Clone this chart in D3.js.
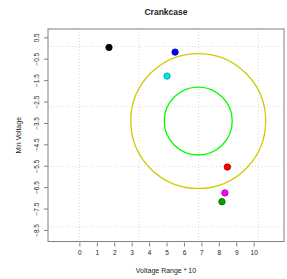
<!DOCTYPE html>
<html>
<head>
<meta charset="utf-8">
<script src="https://cdn.jsdelivr.net/npm/d3@7"></script>
<style>
  body { margin: 0; background: #fff; }
  text { font-family: "Liberation Sans", Arial, sans-serif; fill: #222; }
</style>
</head>
<body>
<svg id="chart" width="287" height="279"></svg>
<script>
const xTicks = [0, 1, 2, 3, 4, 5, 6, 7, 8, 9, 10];
const yTicks = [0.5, -0.5, -1.5, -2.5, -3.5, -4.5, -5.5, -6.5, -7.5, -8.5];
const gridX = [0, 3.42, 6.84, 10.26];
const gridY = [0.07, -2.74, -5.54, -8.35];

const pointNames = ['a', 'b', 'c', 'd', 'e', 'f'];
const pointX = [1.70, 5.49, 5.03, 8.49, 8.35, 8.18];
const pointY = [0.03, -0.19, -1.31, -5.56, -6.77, -7.18];
const pointColors = ['#000000', '#0000ff', '#00e5ee', '#ff0000', '#ff00ff', '#00a000'];

// rings: centre and radius (radius in x units)
const ringCx = [6.82, 6.82];
const ringCy = [-3.41, -3.41];
const ringR = [3.87, 1.95];
const ringColors = ['#cdcd00', '#00ff00'];

const width = 287;
const height = 279;
const box = { left: 48, right: 284, top: 29, bottom: 241.5 };

const svg = d3.select('#chart');

const x = d3.scaleLinear().domain([-1.8, 11.74]).range([box.left, box.right]);
const y = d3.scaleLinear().domain([0.89, -9.04]).range([box.top, box.bottom]);

// grid
svg.append('g')
  .selectAll('line')
  .data(gridX)
  .enter()
  .append('line')
  .attr('x1', d => x(d)).attr('x2', d => x(d))
  .attr('y1', box.top).attr('y2', box.bottom)
  .attr('stroke', '#d9d9d9')
  .attr('stroke-dasharray', '1,2');

svg.append('g')
  .selectAll('line')
  .data(gridY)
  .enter()
  .append('line')
  .attr('y1', d => y(d)).attr('y2', d => y(d))
  .attr('x1', box.left).attr('x2', box.right)
  .attr('stroke', '#d9d9d9')
  .attr('stroke-dasharray', '1,2');

// rings
svg.append('g')
  .selectAll('circle')
  .data(ringR)
  .enter()
  .append('circle')
  .attr('cx', (d, i) => x(ringCx[i]))
  .attr('cy', (d, i) => y(ringCy[i]))
  .attr('r', d => x(d) - x(0))
  .attr('fill', 'none')
  .attr('stroke', (d, i) => ringColors[i])
  .attr('stroke-width', 1.3);

// points
svg.append('g')
  .selectAll('circle')
  .data(pointNames)
  .enter()
  .append('circle')
  .attr('cx', (d, i) => x(pointX[i]))
  .attr('cy', (d, i) => y(pointY[i]))
  .attr('r', 3.2)
  .attr('fill', (d, i) => pointColors[i])
  .attr('stroke', (d, i) => d3.color(pointColors[i]).darker(1.2))
  .attr('stroke-width', 0.8);

// box
svg.append('rect')
  .attr('x', box.left).attr('y', box.top)
  .attr('width', box.right - box.left)
  .attr('height', box.bottom - box.top)
  .attr('fill', 'none')
  .attr('stroke', '#808080')
  .attr('stroke-width', 1);

// x axis
const xAxis = d3.axisBottom(x).tickValues(xTicks).tickSize(4).tickPadding(4);
const gx = svg.append('g')
  .attr('transform', `translate(0, ${box.bottom + 1})`)
  .call(xAxis);
gx.select('.domain').remove();
gx.selectAll('line').attr('stroke', '#808080');
gx.selectAll('text').attr('font-size', 6.5).attr('fill', '#333');

// y axis
const yAxis = d3.axisLeft(y).tickValues(yTicks).tickSize(4).tickFormat(d3.format('.1f'));
const gy = svg.append('g')
  .attr('transform', `translate(${box.left}, 0)`)
  .call(yAxis);
gy.select('.domain').remove();
gy.selectAll('line').attr('stroke', '#808080');
gy.selectAll('text')
  .attr('font-size', 6.5)
  .attr('fill', '#333')
  .attr('text-anchor', 'middle')
  .attr('x', 0)
  .attr('y', 0)
  .attr('dy', 0)
  .attr('transform', 'translate(-9, 0) rotate(-90)');

// titles
svg.append('text')
  .text('Crankcase')
  .attr('x', (box.left + box.right) / 2)
  .attr('y', 15)
  .attr('text-anchor', 'middle')
  .attr('font-size', 8.5)
  .attr('font-weight', 'bold');

svg.append('text')
  .text('Voltage Range * 10')
  .attr('x', (box.left + box.right) / 2)
  .attr('y', 273)
  .attr('text-anchor', 'middle')
  .attr('font-size', 7)
  .attr('fill', '#333');

svg.append('text')
  .text('Min Voltage')
  .attr('transform', `translate(21, ${(box.top + box.bottom) / 2}) rotate(-90)`)
  .attr('text-anchor', 'middle')
  .attr('font-size', 7)
  .attr('fill', '#333');
</script>
</body>
</html>
